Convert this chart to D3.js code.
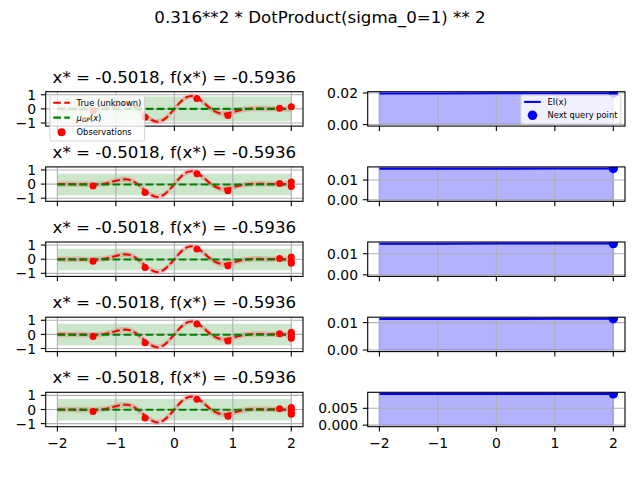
<!DOCTYPE html>
<html><head><meta charset="utf-8">
<script src="https://cdn.jsdelivr.net/npm/d3@7"></script>
<style>body{margin:0;background:#fff} svg{display:block} text{font-family:"DejaVu Sans",sans-serif;fill:#000}</style>
</head><body><svg id="c" width="640" height="480"></svg>
<script>
// ---------------- data ----------------
const suptitle = "0.316**2 * DotProduct(sigma_0=1) ** 2";
const panelTitles = ["x* = -0.5018, f(x*) = -0.5936","x* = -0.5018, f(x*) = -0.5936","x* = -0.5018, f(x*) = -0.5936","x* = -0.5018, f(x*) = -0.5936","x* = -0.5018, f(x*) = -0.5936"];
const xTicks = [-2,-1,0,1,2];
const xTickLabels = ["\u22122","\u22121","0","1","2"];
const leftYTicks = [-1,0,1];
const leftYTickLabels = ["\u22121","0","1"];
const rightYTicks = [[0,0.02],[0,0.01],[0,0.01],[0,0.01],[0,0.005]];
const rightYTickLabels = [["0.00","0.02"],["0.00","0.01"],["0.00","0.01"],["0.00","0.01"],["0.000","0.005"]];
const trueX = [-2.0,-1.9,-1.8,-1.7,-1.6,-1.5,-1.4,-1.3,-1.2,-1.1,-1.0,-0.9,-0.8,-0.7,-0.6,-0.5,-0.4,-0.3,-0.2,-0.1,0.0,0.1,0.2,0.3,0.4,0.5,0.6,0.7,0.8,0.9,1.0,1.1,1.2,1.3,1.4,1.5,1.6,1.7,1.8,1.9,2.0];
const trueY = [0.00,0.00,0.00,-0.01,-0.01,-0.02,-0.03,-0.01,0.03,0.12,0.23,0.32,0.33,0.19,-0.09,-0.45,-0.76,-0.91,-0.81,-0.47,0.00,0.47,0.81,0.91,0.76,0.45,0.09,-0.19,-0.33,-0.32,-0.23,-0.12,-0.03,0.01,0.03,0.02,0.01,0.01,0.00,0.00,0.00];
const noiseBand = 0.196;
const obsX = [-1.39,-0.5018,0.386,0.916,1.80,2.0,2.0,2.0,2.0,2.0];
const obsY = [-0.14,-0.5936,0.73,-0.47,0.05,0.15,-0.17,-0.28,0.03,-0.33];
const obsCount = [6,7,8,9,10];
const muX = [-2,2];
const muY = [[0.0,0.0],[-0.03,-0.03],[-0.02,-0.02],[-0.02,-0.02],[-0.02,-0.02]];
const sigmaBand = [0.88,0.76,0.76,0.77,0.76];
const eiX = [-2,-1,0,1,2];
const eiY = [[0.0197,0.0197,0.0198,0.0198,0.0198],[0.0158,0.0158,0.0158,0.0159,0.0159],[0.0147,0.0147,0.0148,0.0148,0.0148],[0.0113,0.0113,0.0113,0.0114,0.0114],[0.0093,0.0093,0.0093,0.0093,0.0093]];
const nextX = [2,2,2,2,2];
const nextEI = [0.0198,0.0159,0.0148,0.0114,0.0093];
const legendLeft = ["True (unknown)","mu","Observations"];
const legendRight = ["EI(x)","Next query point"];

// ---------------- layout ----------------
const svg = d3.select("#c");
const rowTops = [91.7,166.9,242.0,317.2,392.3], axH = 34.4, axW = 257.3;
const leftL = 45.7, rightL = 367.7;
const FS_TICK = 13.9, FS_TITLE = 16.67, FS_LEG = 8.33;
const LW = 2.08, SPINE = 1.1, TL = 4.86;
const dash = "7.7,3.33";
const pad = e => { const d = e[1]-e[0]; return [e[0]-0.05*d, e[1]+0.05*d]; };

svg.append("text").attr("x",320).attr("y",22.5).attr("text-anchor","middle")
  .attr("font-size",FS_TITLE).text(suptitle);

const defs = svg.append("defs");

function axesFrame(g, x, y, top, left, yTicks, yLabels, showX){
  // grid
  const grid = g.append("g");
  xTicks.forEach(t=>grid.append("line").attr("x1",x(t)).attr("x2",x(t)).attr("y1",top).attr("y2",top+axH)
    .attr("stroke","#b0b0b0").attr("stroke-width",SPINE));
  yTicks.forEach(t=>grid.append("line").attr("x1",left).attr("x2",left+axW).attr("y1",y(t)).attr("y2",y(t))
    .attr("stroke","#b0b0b0").attr("stroke-width",SPINE));
  return grid;
}
function axesDecor(g, x, y, top, left, yTicks, yLabels, showX){
  g.append("rect").attr("x",left).attr("y",top).attr("width",axW).attr("height",axH)
    .attr("fill","none").attr("stroke","#000").attr("stroke-width",SPINE);
  xTicks.forEach((t,k)=>{
    g.append("line").attr("x1",x(t)).attr("x2",x(t)).attr("y1",top+axH).attr("y2",top+axH+TL)
      .attr("stroke","#000").attr("stroke-width",SPINE);
    if(showX) g.append("text").attr("x",x(t)).attr("y",top+axH+21.3).attr("text-anchor","middle")
      .attr("font-size",FS_TICK).text(xTickLabels[k]);
  });
  yTicks.forEach((t,k)=>{
    g.append("line").attr("x1",left-TL).attr("x2",left).attr("y1",y(t)).attr("y2",y(t))
      .attr("stroke","#000").attr("stroke-width",SPINE);
    g.append("text").attr("x",left-9.7).attr("y",y(t)+5.1).attr("text-anchor","end")
      .attr("font-size",FS_TICK).text(yLabels[k]);
  });
}

rowTops.forEach((top,i)=>{
  // ===== left panel =====
  const x = d3.scaleLinear().domain(pad(d3.extent(trueX))).range([leftL,leftL+axW]);
  const oX = obsX.slice(0,obsCount[i]), oY = obsY.slice(0,obsCount[i]);
  const vals = [...trueY.map(v=>v+noiseBand), ...trueY.map(v=>v-noiseBand),
    ...muY[i].map(v=>v+sigmaBand[i]), ...muY[i].map(v=>v-sigmaBand[i]), ...oY];
  const y = d3.scaleLinear().domain(pad(d3.extent(vals))).range([top+axH, top]);
  const cid = "clipL"+i;
  defs.append("clipPath").attr("id",cid).append("rect").attr("x",leftL).attr("y",top).attr("width",axW).attr("height",axH);
  const gL = svg.append("g");
  const clip = gL.append("g").attr("clip-path",`url(#${cid})`);
  const idx = d3.range(trueX.length);
  const curve = d3.curveCatmullRom.alpha(0.5);
  clip.append("path").attr("d", d3.area().curve(curve).x(j=>x(trueX[j])).y0(j=>y(trueY[j]-noiseBand)).y1(j=>y(trueY[j]+noiseBand))(idx))
    .attr("fill","#ff0000").attr("fill-opacity",0.2);
  const midx = d3.range(muX.length);
  clip.append("path").attr("d", d3.area().x(j=>x(muX[j])).y0(j=>y(muY[i][j]-sigmaBand[i])).y1(j=>y(muY[i][j]+sigmaBand[i]))(midx))
    .attr("fill","#008000").attr("fill-opacity",0.2);
  axesFrame(clip, x, y, top, leftL, leftYTicks);
  clip.append("path").attr("d", d3.line().curve(curve).x(j=>x(trueX[j])).y(j=>y(trueY[j]))(idx))
    .attr("fill","none").attr("stroke","#ff0000").attr("stroke-width",LW).attr("stroke-dasharray",dash);
  clip.append("path").attr("d", d3.line().x(j=>x(muX[j])).y(j=>y(muY[i][j]))(midx))
    .attr("fill","none").attr("stroke","#008000").attr("stroke-width",LW).attr("stroke-dasharray",dash);
  oX.forEach((v,k)=>clip.append("circle").attr("cx",x(v)).attr("cy",y(oY[k])).attr("r",3.5).attr("fill","#ff0000"));
  axesDecor(gL, x, y, top, leftL, leftYTicks, leftYTickLabels, i===rowTops.length-1);
  gL.append("text").attr("x",leftL+axW/2).attr("y",top-9).attr("text-anchor","middle")
    .attr("font-size",FS_TITLE).text(panelTitles[i]);

  // ===== right panel =====
  const xr = d3.scaleLinear().domain(pad(d3.extent(eiX))).range([rightL,rightL+axW]);
  const yr = d3.scaleLinear().domain(pad(d3.extent([0,...eiY[i],nextEI[i]]))).range([top+axH, top]);
  const cidR = "clipR"+i;
  defs.append("clipPath").attr("id",cidR).append("rect").attr("x",rightL).attr("y",top).attr("width",axW).attr("height",axH);
  const gR = svg.append("g");
  const clipR = gR.append("g").attr("clip-path",`url(#${cidR})`);
  const eidx = d3.range(eiX.length);
  clipR.append("path").attr("d", d3.area().x(j=>xr(eiX[j])).y0(yr(0)).y1(j=>yr(eiY[i][j]))(eidx))
    .attr("fill","#0000ff").attr("fill-opacity",0.3).attr("stroke","#0000ff").attr("stroke-opacity",0.3).attr("stroke-width",1.39);
  axesFrame(clipR, xr, yr, top, rightL, rightYTicks[i]);
  clipR.append("path").attr("d", d3.line().x(j=>xr(eiX[j])).y(j=>yr(eiY[i][j]))(eidx))
    .attr("fill","none").attr("stroke","#0000ff").attr("stroke-width",LW);
  clipR.append("circle").attr("cx",xr(nextX[i])).attr("cy",yr(nextEI[i])).attr("r",4.7).attr("fill","#0000ff");
  axesDecor(gR, xr, yr, top, rightL, rightYTicks[i], rightYTickLabels[i], i===rowTops.length-1);

  // ===== legends (first row) =====
  if(i===0){
    // left legend
    const lg = svg.append("g");
    const bx = leftL+4.2, by = top+3.3, bh = 46;
    const box = lg.append("rect").attr("x",bx).attr("y",by).attr("height",bh).attr("rx",2)
      .attr("fill","#fff").attr("fill-opacity",0.8).attr("stroke","#cccccc").attr("stroke-opacity",0.8).attr("stroke-width",1.1);
    const offs = [7.8,22.6,37.2];
    const hx0 = bx+3.33, hx1 = bx+20, tx = bx+26.67;
    let maxW = 0;
    legendLeft.forEach((lab,k)=>{
      const cy = by+offs[k];
      if(k===0) lg.append("line").attr("x1",hx0).attr("x2",hx1).attr("y1",cy).attr("y2",cy)
        .attr("stroke","#ff0000").attr("stroke-width",LW).attr("stroke-dasharray",dash);
      if(k===1) lg.append("line").attr("x1",hx0).attr("x2",hx1).attr("y1",cy).attr("y2",cy)
        .attr("stroke","#008000").attr("stroke-width",LW).attr("stroke-dasharray",dash);
      if(k===2) lg.append("circle").attr("cx",(hx0+hx1)/2).attr("cy",cy).attr("r",4).attr("fill","#ff0000");
      const t = lg.append("text").attr("x",tx).attr("y",cy+3).attr("font-size",FS_LEG);
      if(lab==="mu"){
        t.append("tspan").attr("font-style","italic").text("\u03bc");
        t.append("tspan").attr("font-style","italic").attr("font-size",5.8).attr("dy",1.6).text("GP");
        t.append("tspan").attr("dy",-1.6).text("(");
        t.append("tspan").attr("font-style","italic").text("x");
        t.append("tspan").text(")");
      } else t.text(lab);
      maxW = Math.max(maxW, t.node().getComputedTextLength());
    });
    box.attr("width", 26.67+maxW+3.33);

    // right legend
    const rg = svg.append("g");
    const rbh = 29, rby = top+3.4;
    const rbox = rg.append("rect").attr("y",rby).attr("height",rbh).attr("rx",2)
      .attr("fill","#fff").attr("fill-opacity",0.8).attr("stroke","#cccccc").attr("stroke-opacity",0.8).attr("stroke-width",1.1);
    const roffs = [6.8,20.2];
    const texts = legendRight.map((lab,k)=>rg.append("text").attr("y",rby+roffs[k]+3).attr("font-size",FS_LEG).text(lab));
    const rw = d3.max(texts, t=>t.node().getComputedTextLength());
    const rbw = 3.33+16.67+6.67+rw+3.33;
    const rbx = rightL+axW-4.2-rbw;
    rbox.attr("x",rbx).attr("width",rbw);
    texts.forEach(t=>t.attr("x",rbx+26.67));
    rg.append("line").attr("x1",rbx+3.33).attr("x2",rbx+20).attr("y1",rby+roffs[0]).attr("y2",rby+roffs[0])
      .attr("stroke","#0000ff").attr("stroke-width",LW);
    rg.append("circle").attr("cx",rbx+11.67).attr("cy",rby+roffs[1]).attr("r",4.8).attr("fill","#0000ff");
  }
});
</script></body></html>
